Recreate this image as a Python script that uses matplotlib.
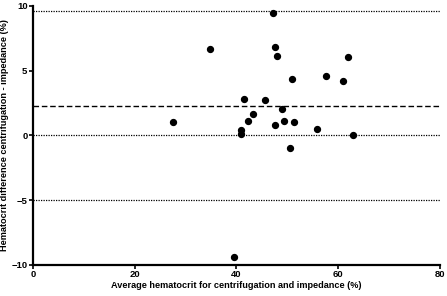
import matplotlib
matplotlib.use('Agg')
import matplotlib.pyplot as plt

plt.rcParams['font.family'] = ['Liberation Sans', 'DejaVu Sans']
plt.rcParams['font.weight'] = 'bold'

# Bland-Altman data: average vs difference (%)
avg_hct = [47.2, 34.7, 47.6, 47.9, 62.0, 57.7, 60.9, 50.9, 41.5, 45.6, 49.0, 43.2,
           42.3, 49.4, 51.4, 47.6, 27.5, 40.8, 40.9, 55.8, 63.0, 50.6, 39.6]
diff_hct = [9.43, 6.65, 6.86, 6.14, 6.04, 4.62, 4.23, 4.34, 2.82, 2.74, 2.02, 1.63,
            1.12, 1.12, 1.02, 0.81, 1.02, 0.42, 0.12, 0.53, 0.01, -0.99, -9.41]

bias = 2.3
limits = [9.6, -5.0]

fig = plt.figure(figsize=(4.47, 2.96), dpi=100)
ax = fig.add_axes([0.074, 0.105, 0.91, 0.875])

ax.axhline(0, color='black', lw=0.9, ls=(0, (1, 1)), zorder=1)
for lim in limits:
    ax.axhline(lim, color='black', lw=0.9, ls=(0, (1, 1)), zorder=1)
ax.axhline(bias, color='black', lw=1.0, ls=(0, (4, 2)), zorder=1)

ax.scatter(avg_hct, diff_hct, s=18, color='black', zorder=3)

ax.set_xlim(0, 80)
ax.set_ylim(-10, 10)
ax.set_xticks([0, 20, 40, 60, 80])
ax.set_yticks([-10, -5, 0, 5, 10])

for s in ['top', 'right']:
    ax.spines[s].set_visible(False)
for s in ['left', 'bottom']:
    ax.spines[s].set_linewidth(1.6)
ax.tick_params(direction='out', length=3, width=1.2, labelsize=6.8, pad=1)

ax.set_xlabel('Average hematocrit for centrifugation and impedance (%)', fontsize=6.6, fontweight='bold', labelpad=1)
ax.set_ylabel('Hematocrit difference centrifugation - impedance (%)', fontsize=6.6, fontweight='bold', labelpad=2)

fig.savefig('out.png', dpi=100)
